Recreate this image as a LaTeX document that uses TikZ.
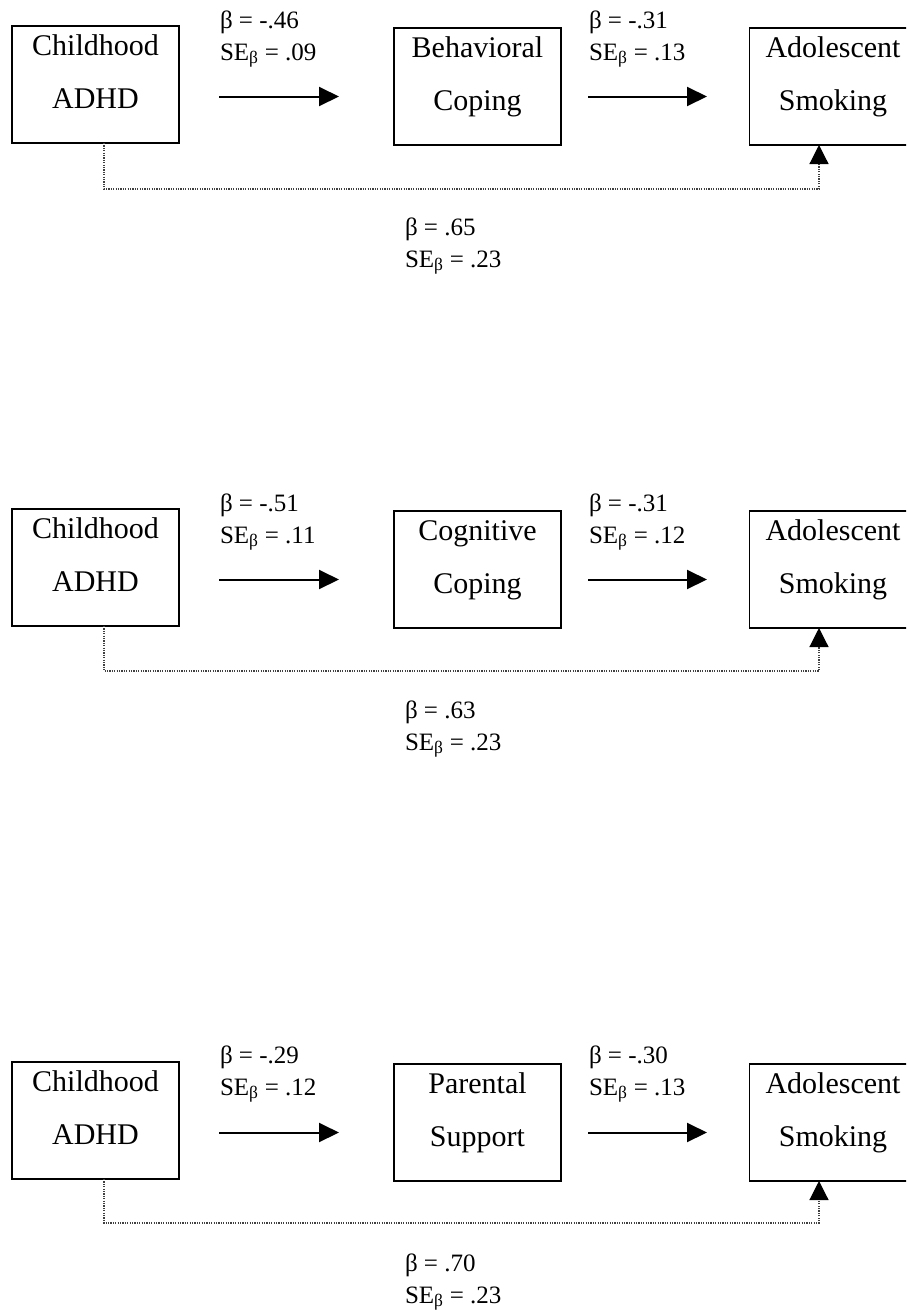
\documentclass[tikz,border=0pt]{standalone}
\usepackage{fontspec}
\setmainfont{Liberation Serif}
\usetikzlibrary{arrows.meta}
\newcommand{\bxt}[2]{\parbox[c][117pt][t]{160pt}{\centering\fontsize{30}{53}\selectfont\rule{0pt}{29pt}#1\\#2}}
\newcommand{\lbt}[2]{\parbox[t]{200pt}{\raggedright\fontsize{25}{32}\selectfont β = #1\\SE\textsubscript{β} = #2}}
\begin{document}
\begin{tikzpicture}[x=1pt,y=-1pt,
  vbox/.style={draw, line width=1.8pt, inner sep=0pt, outer sep=0pt, minimum width=167pt, minimum height=117pt},
  lab/.style={anchor=base west, inner sep=0pt, outer sep=0pt},
  arr/.style={line width=2pt, -{Triangle[length=20pt,width=19pt]}},
  dotl/.style={line width=1.2pt, draw=black!75, dash pattern=on 1.2pt off 1.2pt, -{Triangle[length=19pt,width=19pt,color=black]}}]
\useasboundingbox (0,0) rectangle (906,1310);
\clip (0,0) rectangle (906,1310);
% ---------- panel 1 ----------
\node[vbox] (c1) at (95.5,84.5) {\bxt{Childhood}{ADHD}};
\node[vbox] (m1) at (477.5,86.5) {\bxt{Behavioral}{Coping}};
\node[vbox] (s1) at (833,86.5) {\bxt{Adolescent}{Smoking}};
\draw[arr] ([xshift=40pt,yshift=-12pt]c1.east) -- ([xshift=-55pt,yshift=-12pt]c1.east -| m1.west);
\draw[arr] ([xshift=27pt,yshift=-12pt]c1.east -| m1.east) -- ([xshift=-42.5pt,yshift=-12pt]c1.east -| s1.west);
\draw[dotl] ([xshift=8.5pt]c1.south) -- ++(0,46) -| ([xshift=-14pt]s1.south);
\node[lab] (l1a) at (220,28) {\lbt{-.46}{.09}};
\node[lab] (l1b) at (589,28) {\lbt{-.31}{.13}};
\node[lab] (l1c) at (405,235) {\lbt{.65}{.23}};
% ---------- panel 2 ----------
\node[vbox] (c2) at (95.5,567.5) {\bxt{Childhood}{ADHD}};
\node[vbox] (m2) at (477.5,569.5) {\bxt{Cognitive}{Coping}};
\node[vbox] (s2) at (833,569.5) {\bxt{Adolescent}{Smoking}};
\draw[arr] ([xshift=40pt,yshift=-12pt]c2.east) -- ([xshift=-55pt,yshift=-12pt]c2.east -| m2.west);
\draw[arr] ([xshift=27pt,yshift=-12pt]c2.east -| m2.east) -- ([xshift=-42.5pt,yshift=-12pt]c2.east -| s2.west);
\draw[dotl] ([xshift=8.5pt]c2.south) -- ++(0,45) -| ([xshift=-14pt]s2.south);
\node[lab] (l2a) at (220,511) {\lbt{-.51}{.11}};
\node[lab] (l2b) at (589,511) {\lbt{-.31}{.12}};
\node[lab] (l2c) at (405,718) {\lbt{.63}{.23}};
% ---------- panel 3 ----------
\node[vbox] (c3) at (95.5,1120.5) {\bxt{Childhood}{ADHD}};
\node[vbox] (m3) at (477.5,1122.5) {\bxt{Parental}{Support}};
\node[vbox] (s3) at (833,1122.5) {\bxt{Adolescent}{Smoking}};
\draw[arr] ([xshift=40pt,yshift=-12pt]c3.east) -- ([xshift=-55pt,yshift=-12pt]c3.east -| m3.west);
\draw[arr] ([xshift=27pt,yshift=-12pt]c3.east -| m3.east) -- ([xshift=-42.5pt,yshift=-12pt]c3.east -| s3.west);
\draw[dotl] ([xshift=8.5pt]c3.south) -- ++(0,44) -| ([xshift=-14pt]s3.south);
\node[lab] (l3a) at (220,1063) {\lbt{-.29}{.12}};
\node[lab] (l3b) at (589,1063) {\lbt{-.30}{.13}};
\node[lab] (l3c) at (405,1271) {\lbt{.70}{.23}};
\end{tikzpicture}
\end{document}
